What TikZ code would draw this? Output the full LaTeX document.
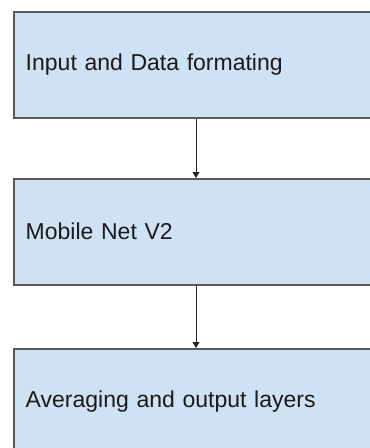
\documentclass[tikz,border=0pt]{standalone}
\usepackage{fontspec}
\setmainfont{Liberation Sans}
\usetikzlibrary{arrows.meta}
\definecolor{boxfill}{HTML}{CFE2F3}
\definecolor{boxline}{HTML}{595959}
\definecolor{txt}{HTML}{1A1A1A}
\begin{document}
\begin{tikzpicture}[x=1pt,y=1pt,
  stagebox/.style={draw=boxline, line width=1.5pt, fill=boxfill, anchor=north west,
    minimum width=370pt, minimum height=106pt, text width=346pt, align=left,
    inner xsep=12pt, inner ysep=0pt, text=txt, font=\fontsize{23}{27}\selectfont},
  arr/.style={draw=black!85, line width=1pt, -{Triangle[length=6pt,width=7pt]}}]
\useasboundingbox (0,0) rectangle (370,-448);
\clip (0,0) rectangle (370,-448);
\fill[white] (0,0) rectangle (370,-448);
\node[stagebox] (b1) at (13,-11) {Input and Data formating};
\node[stagebox] (b2) at (13,-178) {Mobile Net V2};
\node[stagebox] (b3) at (13,-348) {Averaging and output layers};
\coordinate (ax) at (196,0);
\draw[arr] (b1.south -| ax) -- (b2.north -| ax);
\draw[arr] (b2.south -| ax) -- (b3.north -| ax);
\end{tikzpicture}
\end{document}
